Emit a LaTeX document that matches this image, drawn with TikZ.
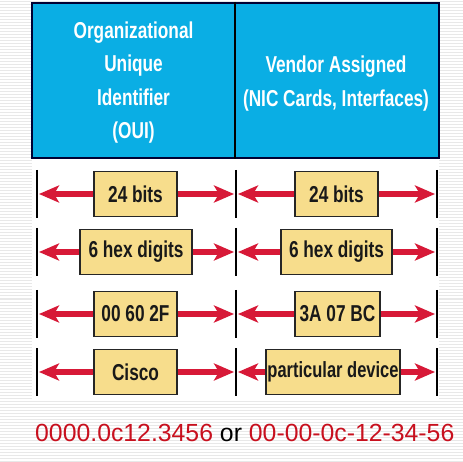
\documentclass[tikz,border=0pt]{standalone}
\usepackage{fontspec}
\setmainfont{Liberation Sans}
\newfontfamily\narrowbold[FakeStretch=0.75]{Liberation Sans Bold}
\usetikzlibrary{arrows.meta}
\definecolor{hdrblue}{RGB}{10,174,228}
\definecolor{boxyellow}{RGB}{247,221,140}
\definecolor{arrred}{RGB}{215,25,55}
\definecolor{txtred}{RGB}{200,16,30}
\definecolor{stripe}{RGB}{232,232,232}
\tikzset{
  ybox/.style={draw=black!85, line width=1.5pt, fill=boxyellow, minimum height=45pt,
    inner sep=0pt, font=\narrowbold\fontsize{23}{23}\selectfont, text=black!90},
  hdrtext/.style={text=white, align=center, font=\narrowbold\fontsize{23}{33.5}\selectfont},
  arr/.style={draw=arrred, line width=6pt, -{Stealth[length=20pt,width=17pt,inset=5pt]}, shorten >=0pt},
  barline/.style={draw=black, line width=2pt},
}
\begin{document}
\begin{tikzpicture}[x=1pt,y=-1pt]
\useasboundingbox (0,0) rectangle (463,462);
\fill[white] (0,0) rectangle (463,462);
\foreach \i in {1,...,154} \draw[stripe, line width=1pt] (0,3*\i-1) -- (463,3*\i-1);
% panels
\fill[white] (32,160) rectangle (439,400);
\node[draw=black!80!blue, line width=2pt, fill=hdrblue, minimum width=407pt, minimum height=155pt, inner sep=0pt] (hdr) at (235.5,80.5) {};
\draw[black, line width=2pt] (hdr.north -| 235,0) coordinate (dtop) -- (hdr.south -| 235,0) coordinate (dbot);
\node[hdrtext] (oui) at (133.5,82.5) {Organizational\\Unique\\Identifier\\(OUI)};
\node[hdrtext] (vend) at (336,83.5) {Vendor Assigned\\(NIC Cards, Interfaces)};
% bars
\foreach \r/\y in {1/194,2/252,3/314,4/372}{
  \coordinate (a\r t) at (37,\y-24); \coordinate (a\r b) at (37,\y+24);
  \coordinate (m\r t) at (236,\y-24); \coordinate (m\r b) at (236,\y+24);
  \coordinate (z\r t) at (437,\y-24); \coordinate (z\r b) at (437,\y+24);
  \draw[barline] (a\r t) -- (a\r b);
  \draw[barline] (m\r t) -- (m\r b);
  \draw[barline] (z\r t) -- (z\r b);
  \coordinate (la\r) at (39,\y); \coordinate (lb\r) at (234,\y);
  \coordinate (ra\r) at (238,\y); \coordinate (rb\r) at (435,\y);
}
% boxes
\node[ybox, minimum width=83pt] (b1L) at (135.5,194) {24 bits};
\node[ybox, minimum width=83pt] (b1R) at (336.5,194) {24 bits};
\node[ybox, minimum width=112pt] (b2L) at (136,252) {6 hex digits};
\node[ybox, minimum width=111pt] (b2R) at (336.5,252) {6 hex digits};
\node[ybox, minimum width=83pt] (b3L) at (135.5,314) {00 60 2F};
\node[ybox, minimum width=85pt] (b3R) at (337.5,314) {3A 07 BC};
\node[ybox, minimum width=83pt] (b4L) at (135.5,372) {Cisco};
\node[ybox, minimum width=134pt, font=\narrowbold\fontsize{22}{22}\selectfont] (b4R) at (333,372) {particular device};
% arrows
\foreach \r in {1,2,3,4}{
  \draw[arr] (b\r L.west) -- (la\r);
  \draw[arr] (b\r L.east) -- (lb\r);
  \draw[arr] (b\r R.west) -- (ra\r);
  \draw[arr] (b\r R.east) -- (rb\r);
}
% bottom text
\node[anchor=base west, inner sep=0pt, font=\fontsize{24.8}{24.8}\selectfont] (fmt) at (35,441)
  {\textcolor{txtred}{0000.0c12.3456} or \textcolor{txtred}{00-00-0c-12-34-56}};
\end{tikzpicture}
\end{document}
